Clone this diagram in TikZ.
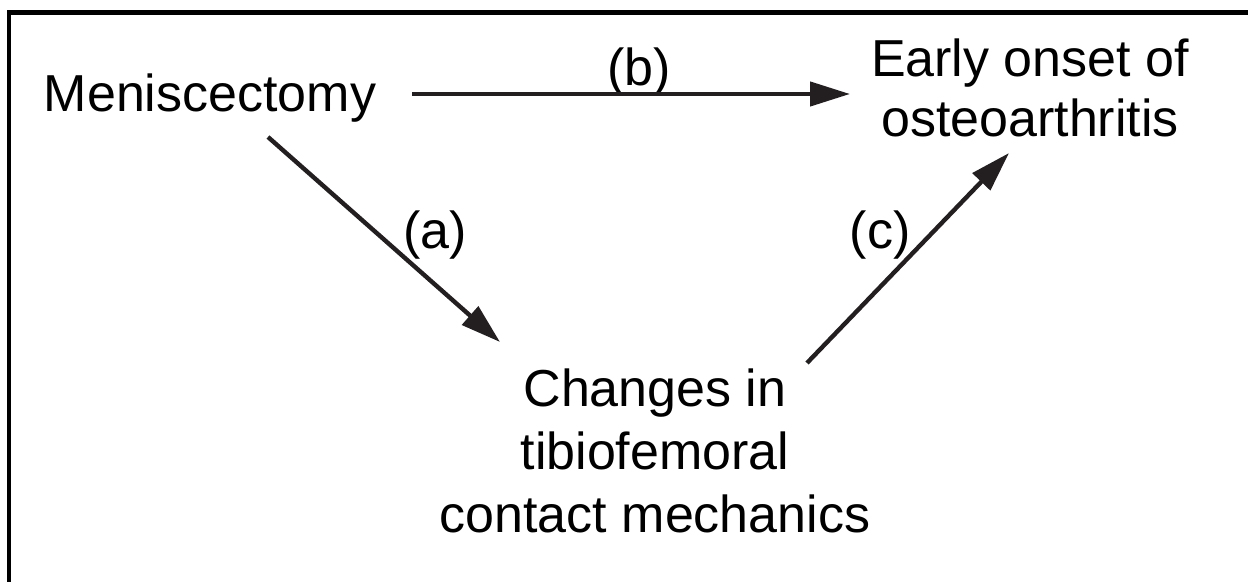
\documentclass[tikz,border=0pt]{standalone}
\usepackage{fontspec}
\setmainfont{Liberation Sans}
\usetikzlibrary{arrows.meta}
\definecolor{inkdark}{HTML}{231F20}
\tikzset{
  label text/.style={inner sep=0pt, anchor=base, font=\fontsize{26}{30}\selectfont},
  flow/.style={draw=inkdark, line width=2.2pt,
    -{Triangle[length=20pt, width=12pt]}, fill=inkdark},
}
\begin{document}
\begin{tikzpicture}[x=0.5pt, y=-0.5pt]
  \useasboundingbox (0,0) rectangle (1248,582);
  % open frame: top and left edges only
  \draw[line width=2.25pt, line join=miter] (1248,12.5) -- (9,12.5) -- (9,582);

  % statements
  \node[label text] (men) at (210,112) {Meniscectomy};
  \node[label text] (early) at (1030,77)
    {\begin{tabular}[t]{@{}c@{}}Early onset of\\osteoarthritis\end{tabular}};
  \node[label text, font=\fontsize{26}{31.5}\selectfont] (chg) at (655,407)
    {\begin{tabular}[t]{@{}c@{}}Changes in\\tibiofemoral\\contact mechanics\end{tabular}};

  % arrow labels
  \node[label text] (la) at (435,249) {(a)};
  \node[label text] (lb) at (639,86) {(b)};
  \node[label text] (lc) at (880,249) {(c)};

  % arrows
  \draw[flow] ([shift={(58,25)}]men.base) -- ([shift={(-155,-65)}]chg.base);
  \draw[flow] ([shift={(202,-18)}]men.base) -- ([shift={(-180,17)}]early.base);
  \draw[flow] ([shift={(152,-44)}]chg.base) -- ([shift={(-21,76)}]early.base);
\end{tikzpicture}
\end{document}
